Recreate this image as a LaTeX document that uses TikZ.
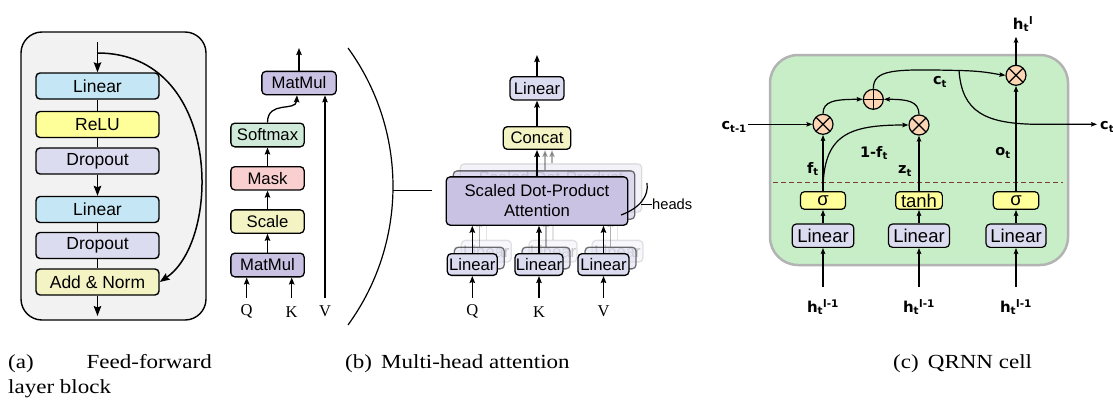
\documentclass[tikz,border=0pt]{standalone}
\usepackage{fontspec}
\setmainfont{Liberation Serif}
\newfontfamily\lsans{Liberation Sans}
\newfontfamily\dvs{DejaVu Sans}
\usetikzlibrary{arrows.meta,calc}
\definecolor{cblue}{HTML}{C5E7F5}
\definecolor{cyel}{HTML}{FFFF99}
\definecolor{clav}{HTML}{DCDCF0}
\definecolor{cpale}{HTML}{F3F3C4}
\definecolor{cpur}{HTML}{C9C2E3}
\definecolor{cgrn}{HTML}{CFEAD8}
\definecolor{cpink}{HTML}{F9CFCF}
\definecolor{cpanel}{HTML}{C7EEC7}
\definecolor{cop}{HTML}{FCD5B5}
\definecolor{cdash}{HTML}{7A3B3B}
\definecolor{cgray}{HTML}{F2F2F2}
\definecolor{cborder}{HTML}{B3B3B3}
\newcommand\qlab[2]{{\bfseries #1}\textsubscript{\bfseries #2}}
\newcommand\hlab[1]{{\bfseries h}\textsubscript{\bfseries t}\textsuperscript{\bfseries #1}}
\newcommand\capt[1]{\scalebox{1.15}[1]{#1}}
\begin{document}
\begin{tikzpicture}[x=1pt,y=-1pt,
  box/.style={draw, rounded corners=4pt, line width=1.4pt, inner sep=0pt, align=center},
  fa/.style={box, minimum width=123pt, minimum height=26pt, font=\lsans\fontsize{17.5}{20}\selectfont},
  fb/.style={box, line width=1.3pt, font=\lsans\fontsize{16.7}{20}\selectfont},
  fc/.style={box, line width=1.2pt, font=\lsans\fontsize{18.5}{20}\selectfont},
  arA/.style={-{Stealth[length=10pt,width=7.5pt,inset=1.5pt]}, line width=1.5pt},
  arB/.style={-{Stealth[length=7pt,width=5.5pt,inset=1pt]}, line width=1.3pt},
  arC/.style={-{Stealth[length=6pt,width=4.5pt,inset=1pt]}, line width=1.2pt},
  lnA/.style={line width=1.4pt},
  op/.style={circle, draw, fill=cop, line width=1.2pt, minimum size=20pt, inner sep=0pt},
  otimes/.style={op, path picture={\draw[line width=1.3pt]
      (path picture bounding box.north west) -- (path picture bounding box.south east)
      (path picture bounding box.north east) -- (path picture bounding box.south west);}},
  oplus/.style={op, path picture={\draw[line width=1.3pt]
      (path picture bounding box.north) -- (path picture bounding box.south)
      (path picture bounding box.east) -- (path picture bounding box.west);}},
  lbl/.style={inner sep=0pt, font=\dvs\fontsize{14.5}{16}\selectfont},
  hlb/.style={inner sep=0pt, font=\dvs\fontsize{15}{16}\selectfont},
  ser/.style={inner sep=0pt, font=\fontsize{16.5}{18}\selectfont},
  captxt/.style={inner sep=0pt, font=\fontsize{20}{22}\selectfont, anchor=base west}
]
\useasboundingbox (0,0) rectangle (1113,399);

%%%%% (a) feed-forward block
\draw[fill=cgray, line width=1.4pt, rounded corners=21pt] (21,32) rectangle (206,320);
\node[fa, fill=cblue] (l1) at (97.5,86) {Linear};
\node[fa, fill=cyel] (re) at (97.5,124.5) {ReLU};
\node[fa, fill=clav] (d1) at (97.5,161) {Dropout};
\node[fa, fill=cblue] (l2) at (97.5,209.5) {Linear};
\node[fa, fill=clav] (d2) at (97.5,245.5) {Dropout};
\node[fa, fill=cpale] (an) at (97.5,282) {Add \& Norm};
\coordinate (ain) at (97.5,42);
\coordinate (askip) at (97.5,53);
\coordinate (aout) at (97.5,316);
\draw[arA] (ain) -- (l1.north);
\draw[lnA] (l1) -- (re) (re) -- (d1) (l2) -- (d2) (d2) -- (an);
\draw[arA] (d1.south) -- (l2.north);
\draw[arA] (an.south) -- (aout);
\draw[arA] (askip) .. controls (222,53) and (222,240) .. (an.east);

%%%%% (b) scaled dot-product attention
\node[fb, fill=cpur, minimum width=74.3pt, minimum height=23.3pt] (mt) at (299,83) {MatMul};
\node[fb, fill=cgrn, minimum width=73.3pt, minimum height=23.7pt] (sm) at (267.5,135) {Softmax};
\node[fb, fill=cpink, minimum width=73.3pt, minimum height=23.3pt] (mk) at (267.5,178.3) {Mask};
\node[fb, fill=cpale, minimum width=73.3pt, minimum height=23.3pt] (sc) at (267.5,221.5) {Scale};
\node[fb, fill=cpur, minimum width=73.3pt, minimum height=23.7pt] (mb) at (267.5,265) {MatMul};
\node[ser] (q1) at (246.7,311.7) {Q};
\node[ser] (k1) at (291.7,311.7) {K};
\node[ser] (v1) at (325,311.7) {V};
\coordinate (qa) at (246.7,298);
\coordinate (ka) at (291.7,298);
\coordinate (va) at (325,298);
\coordinate (mo) at (299,48);
\draw[arB] (qa) -- (qa |- mb.south);
\draw[arB] (ka) -- (ka |- mb.south);
\draw[arB] (va) -- (va |- mt.south);
\draw[arB] (mb) -- (sc);
\draw[arB] (sc) -- (mk);
\draw[arB] (mk) -- (sm);
\draw[arB] (sm.north) .. controls (267.5,100) and (296,112) .. ($(mt.south)+(-2,0)$);
\draw[arB] (mt.north) -- (mo);

% bracket
\draw[line width=1.2pt] (348,48) arc[start angle=-36, end angle=36, radius=235.6];
\coordinate (bl1) at (393,190.5);
\coordinate (bl2) at (432,190.5);
\draw[line width=1.2pt] (bl1) -- (bl2);

%%%%% multi-head attention
% back copies
\begin{scope}[opacity=0.22]
\node[fb, fill=cpur, draw=gray, minimum width=181.6pt, minimum height=48.3pt] (sd3) at (551,188) {Scaled Dot-Product\\Attention};
\node[fb, fill=clav, draw=gray, minimum width=50pt, minimum height=21.7pt] (lq3) at (486.3,251.2) {Linear};
\node[fb, fill=clav, draw=gray, minimum width=48pt, minimum height=21.7pt] (lk3) at (553,251.2) {Linear};
\node[fb, fill=clav, draw=gray, minimum width=51pt, minimum height=21.7pt] (lv3) at (617.5,251.2) {Linear};
\draw[arB, draw=gray] (lq3.north) -- (lq3.north |- sd3.south);
\draw[arB, draw=gray] (lk3.north) -- (lk3.north |- sd3.south);
\draw[arB, draw=gray] (lv3.north) -- (lv3.north |- sd3.south);
\end{scope}
\begin{scope}[opacity=0.55]
\node[fb, fill=cpur, minimum width=181.6pt, minimum height=48.3pt] (sd2) at (544,195) {};
\node[fb, fill=clav, minimum width=50pt, minimum height=21.7pt] (lq2) at (479.3,258) {};
\node[fb, fill=clav, minimum width=48pt, minimum height=21.7pt] (lk2) at (546,258) {};
\node[fb, fill=clav, minimum width=51pt, minimum height=21.7pt] (lv2) at (610.5,258) {};
\end{scope}
\node[fb, fill=clav, minimum width=54pt, minimum height=23.3pt] (lt) at (537,88.3) {Linear};
\node[fb, fill=cpale, minimum width=67.4pt, minimum height=22.6pt] (cc) at (537,138) {Concat};
\begin{scope}[opacity=0.3]
\draw[arB] (sd3.north -| 552,0) -- (552,0 |- cc.south);
\draw[arB] (sd2.north -| 545,0) -- (545,0 |- cc.south);
\draw[arB] (lq2.north) -- (lq2.north |- sd2.south);
\draw[arB] (lk2.north) -- (lk2.north |- sd2.south);
\draw[arB] (lv2.north) -- (lv2.north |- sd2.south);
\end{scope}
\node[fb, fill=cpur, minimum width=181.6pt, minimum height=48.3pt] (sd) at (537,201) {Scaled Dot-Product\\Attention};
\node[fb, fill=clav, minimum width=50pt, minimum height=21.7pt] (lq) at (472.3,264.5) {Linear};
\node[fb, fill=clav, minimum width=48pt, minimum height=21.7pt] (lk) at (539,264.5) {Linear};
\node[fb, fill=clav, minimum width=51pt, minimum height=21.7pt] (lv) at (603.5,264.5) {Linear};
\node[ser] (q2) at (472.3,311.7) {Q};
\node[ser] (k2) at (539,311.7) {K};
\node[ser] (v2) at (603.5,311.7) {V};
\coordinate (qb) at (472.3,298);
\coordinate (kb) at (539,298);
\coordinate (vb) at (603.5,298);
\coordinate (mho) at (537,55);
\draw[arB] (qb) -- (lq.south);
\draw[arB] (kb) -- (lk.south);
\draw[arB] (vb) -- (lv.south);
\draw[arB] (lq.north) -- (lq.north |- sd.south);
\draw[arB] (lk.north) -- (lk.north |- sd.south);
\draw[arB] (lv.north) -- (lv.north |- sd.south);
\draw[arB] (sd.north) -- (cc.south);
\draw[arB] (cc.north) -- (lt.south);
\draw[arB] (lt.north) -- (mho);
% heads
\node[inner sep=0pt, anchor=west, font=\lsans\fontsize{14.7}{16}\selectfont] (hd) at (652,204) {heads};
\coordinate (hc1) at (621,215);
\coordinate (hc2) at (647,183);
\coordinate (hc3) at (641,204);
\draw[line width=1.2pt] (hc1) .. controls (640,208) and (649,196) .. (hc2);
\draw[line width=1pt] (hc3) -- (hd.west);

%%%%% (c) QRNN cell
\draw[fill=cpanel, draw=cborder, line width=2.5pt, rounded corners=28pt] (770,55) rectangle (1068,265);
\coordinate (dl) at (773,182.3);
\coordinate (dr) at (1063,182.3);
\draw[cdash, line width=1.3pt, dash pattern=on 5pt off 3pt] (dl) -- (dr);
\node[fc, fill=clav, minimum width=61.6pt, minimum height=23.3pt] (lc1) at (823,235.7) {Linear};
\node[fc, fill=clav, minimum width=61pt, minimum height=23.3pt] (lc2) at (919,235.7) {Linear};
\node[fc, fill=clav, minimum width=60pt, minimum height=23.3pt] (lc3) at (1016,235.7) {Linear};
\node[fc, fill=cyel, minimum width=45pt, minimum height=17.6pt] (s1) at (823,200.5) {σ};
\node[fc, fill=cyel, minimum width=46.7pt, minimum height=17.6pt] (th) at (919,200.5) {tanh};
\node[fc, fill=cyel, minimum width=45.4pt, minimum height=17.6pt] (s3) at (1016,200.5) {σ};
\node[otimes] (m1) at (823,124.3) {};
\node[oplus] (pl) at (873.3,99.3) {};
\node[otimes] (m2) at (919,125) {};
\node[otimes] (m3) at (1016,75.3) {};
\node[hlb] (hb1) at (823,307) {\hlab{l-1}};
\node[hlb] (hb2) at (919,307) {\hlab{l-1}};
\node[hlb] (hb3) at (1016,307) {\hlab{l-1}};
\node[hlb] (ht) at (1023,24) {\hlab{l}};
\node[lbl, anchor=east] (ctm) at (747,127) {\qlab{c}{t-1}};
\node[lbl, anchor=west] (cto) at (1100,127) {\qlab{c}{t}};
\node[lbl] (ftl) at (813,169) {\qlab{f}{t}};
\node[lbl] (omf) at (874,153) {\qlab{1-f}{t}};
\node[lbl] (ztl) at (905,171) {\qlab{z}{t}};
\node[lbl] (otl) at (1003,153) {\qlab{o}{t}};
\node[lbl] (ctl) at (940,82) {\qlab{c}{t}};
\coordinate (i1) at (823,286.7);
\coordinate (i2) at (919,286.7);
\coordinate (i3) at (1016,286.7);
\coordinate (cin) at (748,124.3);
\coordinate (hout) at (1016,36.7);
\coordinate (br) at (959,70.5);
\coordinate (cend) at (1097,124.3);
\draw[arC] (i1) -- (lc1.south);
\draw[arC] (i2) -- (lc2.south);
\draw[arC] (i3) -- (lc3.south);
\draw[arC] (lc1) -- (s1);
\draw[arC] (lc2) -- (th);
\draw[arC] (lc3) -- (s3);
\draw[arC] (s1.north) -- (m1.south);
\draw[arC] (th.north) -- (m2.south);
\draw[arC] (s3.north) -- (m3.south);
\draw[arC] (s1.north) .. controls (823,135) and (848,125) .. (m2.west);
\draw[arC] (cin) -- (m1.west);
\draw[arC] (m1.north) .. controls (823,101) and (835,99.3) .. (pl.west);
\draw[arC] (m2.north) .. controls (919,101) and (907,99.3) .. (pl.east);
\draw[line width=1.2pt] (pl.north) .. controls (873.3,69) and (895,69) .. (br);
\draw[arC] (br) .. controls (985,71) and (995,74) .. (m3.west);
\draw[arC] (br) .. controls (962,112) and (985,124.3) .. (1040,124.3) -- (cend);
\draw[arC] (m3.north) -- (hout);

%%%%% captions
\node[captxt] (ca) at (8,368) {\capt{(a)}};
\node[captxt, anchor=base east] (cb) at (212,368) {\capt{Feed-forward}};
\node[captxt] (cc2) at (8,393) {\capt{layer block}};
\node[captxt] (cd) at (345,368) {\capt{(b)\hspace{0.4em}Multi-head attention}};
\node[captxt] (ce) at (893,368) {\capt{(c)\hspace{0.4em}QRNN cell}};
\end{tikzpicture}
\end{document}
